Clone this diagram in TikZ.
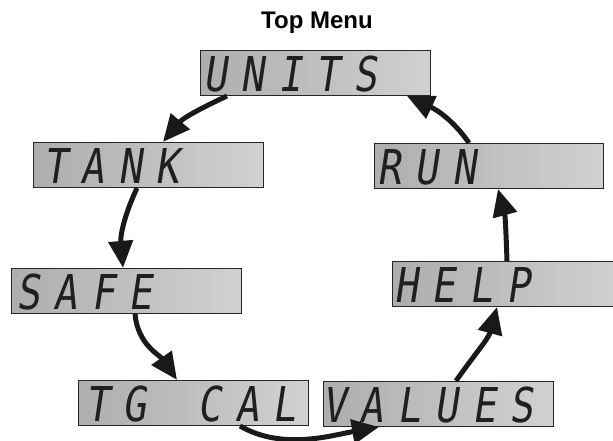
\documentclass[tikz,border=0pt]{standalone}
\usepackage{fontspec}
\setmainfont{Liberation Sans}
\newfontfamily\lcdfont[FakeSlant=0.15,FakeStretch=0.82]{DejaVu Sans Mono}
\usetikzlibrary{arrows.meta}
\newcommand\lcdtext[1]{\lcdloop#1\relax}
\def\lcdloop#1{\ifx\relax#1\else\makebox[37.5pt][l]{#1}\expandafter\lcdloop\fi}
\begin{document}
\begin{tikzpicture}[x=1pt,y=1pt,
  lcdbox/.style={draw=black!85, line width=1.1pt, left color=black!32, right color=black!18,
    minimum width=230pt, minimum height=45pt, inner sep=0pt, anchor=south west},
  lcdtxt/.style={inner sep=0pt, anchor=base west, font=\lcdfont\fontsize{48}{48}\selectfont, text=black!88},
  flow/.style={line width=5pt, draw=black!90, -{Triangle[length=27pt,width=24pt]}}]
\useasboundingbox (0,0) rectangle (613,441);
\node[anchor=base] (title) at (317,412) {\bfseries\fontsize{24}{24}\selectfont Top Menu};
% boxes
\node[lcdbox] (units)  at (200,345) {};
\node[lcdbox] (tank)   at (33,253) {};
\node[lcdbox] (safe)   at (11,127) {};
\node[lcdbox] (tgcal)  at (78,15) {};
\node[lcdbox] (values) at (323,14) {};
\node[lcdbox, minimum width=229pt] (run) at (374,252) {};
\node[lcdbox] (help)   at (392,134) {};
% texts
\node[lcdtxt] (unitsT)  at (203,349.5) {\lcdtext{UNITS}};
\node[lcdtxt] (tankT)   at (43,257.5) {\lcdtext{TANK}};
\node[lcdtxt] (safeT)   at (16,131.5) {\lcdtext{SAFE}};
\node[lcdtxt] (tgcalT)  at (85,19.5) {\lcdtext{TG}\hspace{37.5pt}\lcdtext{CAL}};
\node[lcdtxt] (valuesT) at (322,18.5) {\lcdtext{VALUES}};
\node[lcdtxt] (runT)    at (377,256.5) {\lcdtext{RUN}};
\node[lcdtxt] (helpT)   at (394,138.5) {\lcdtext{HELP}};
% connectors
\draw[flow] ([xshift=27pt]units.south west) to[out=205,in=50] ([xshift=130pt]tank.north west);
\draw[flow] ([xshift=104pt]tank.south west) to[out=245,in=95] ([xshift=112pt]safe.north west);
\draw[flow] ([xshift=124pt]safe.south west) to[out=-85,in=125] ([xshift=99pt]tgcal.north west);
\draw[flow] ([xshift=162pt]tgcal.south west) to[out=-30,in=190,looseness=0.9] ([xshift=56pt]values.south west);
\draw[flow] ([xshift=133pt]values.north west) to[out=55,in=-105] ([xshift=105pt]help.south west);
\draw[flow] ([xshift=115pt]help.north west) to[out=92,in=-75] ([xshift=124pt]run.south west);
\draw[flow] ([xshift=95pt]run.north west) to[out=125,in=-25] ([xshift=207pt]units.south west);
\end{tikzpicture}
\end{document}
